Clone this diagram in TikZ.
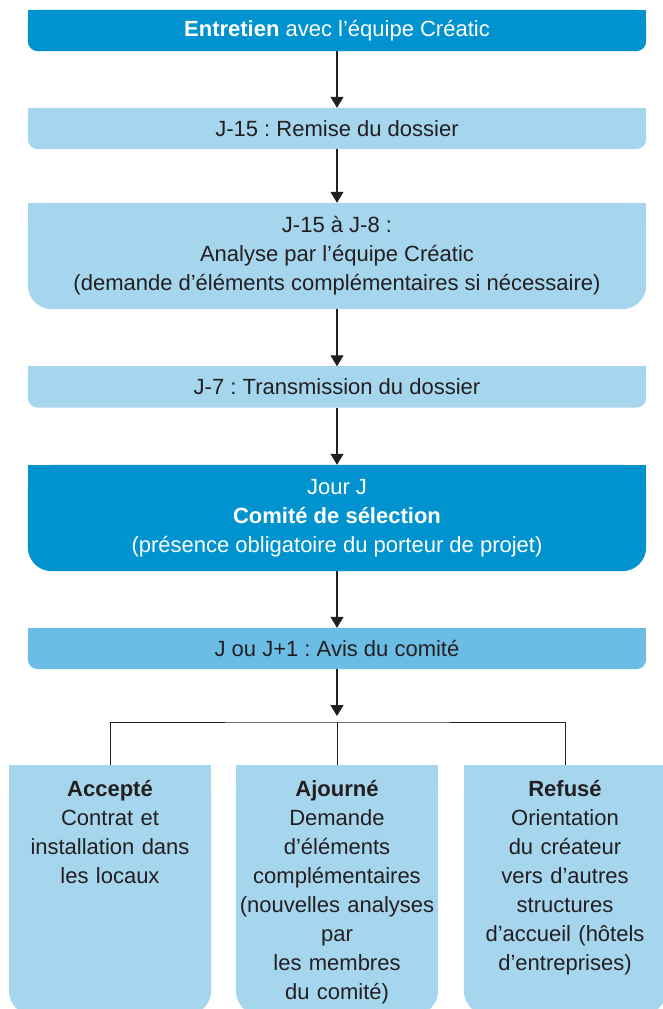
\documentclass[tikz,border=0pt]{standalone}
\usepackage{fontspec}
\setmainfont{Liberation Sans}
\frenchspacing
\usetikzlibrary{arrows.meta,backgrounds}
\definecolor{fonce}{HTML}{0093D0}
\definecolor{clair}{HTML}{A6D5EE}
\definecolor{moyen}{HTML}{6CBDE5}
\definecolor{encre}{HTML}{231F20}

\begin{document}
\begin{tikzpicture}[x=1pt,y=1pt,>={Triangle[width=13pt,length=11pt]},
	etape/.style={minimum width=618pt, inner sep=0pt, align=center, text=encre,
		font=\fontsize{22}{29}\selectfont},
	feuille/.style={anchor=north, minimum width=202pt, text width=216pt, inner xsep=-7pt,
		inner ysep=0pt, align=center, text height=31pt, text depth=219pt, text=encre,
		font=\fontsize{22}{29}\selectfont},
	fleche/.style={->, line width=1.3pt, encre},
	trait/.style={line width=1pt, encre}]
		\useasboundingbox (0,0) rectangle (662,-1009);
		% Etapes
		\node[etape, minimum height=41pt, text=white] (entr) at (337,-30.5) {\textbf{Entretien} avec l’équipe Créatic};
		\node[etape, minimum height=41pt] (remise) at (337,-128.5) {J-15 : Remise du dossier};
		\node[etape, minimum height=106pt] (analyse) at (337,-256) {J-15 à J-8 :\\ Analyse par l’équipe Créatic\\ (demande d’éléments complémentaires si nécessaire)};
		\node[etape, minimum height=41pt] (transm) at (337,-387) {J-7 : Transmission du dossier};
		\node[etape, minimum height=106pt, text=white] (comite) at (337,-518) {Jour J\\ \textbf{Comité de sélection}\\ (présence obligatoire du porteur de projet)};
		\node[etape, minimum height=41pt] (avis) at (337,-648.5) {J ou J+1 : Avis du comité};
		% Decisions
		\node[feuille] (acc) at (110,-765) {\textbf{Accepté}\\ Contrat et\\ installation dans\\ les locaux};
		\node[feuille] (ajo) at (337,-765) {\textbf{Ajourné}\\ Demande\\ d’éléments\\ complémentaires\\ (nouvelles analyses\\ par\\ les membres\\ du comité)};
		\node[feuille] (ref) at (565,-765) {\textbf{Refusé}\\ Orientation\\ du créateur\\ vers d’autres\\ structures\\ d’accueil (hôtels\\ d’entreprises)};
		% Fonds (coins bas arrondis)
		\begin{scope}[on background layer]
			\foreach \n/\c/\r in {entr/fonce/10, remise/clair/10, analyse/clair/24, transm/clair/10,
				comite/fonce/24, avis/moyen/10, acc/clair/25, ajo/clair/25, ref/clair/25}{
				\fill[\c, rounded corners=\r pt] (\n.north west) rectangle (\n.south east);
				\fill[\c] (\n.north west) rectangle ([yshift={2*\r pt}]\n.south east);
			}
		\end{scope}
		% Fleches
		\draw[fleche] (entr) -- (remise);
		\draw[fleche] (remise) -- (analyse);
		\draw[fleche] (analyse) -- (transm);
		\draw[fleche] (transm) -- (comite);
		\draw[fleche] (comite) -- (avis);
		\coordinate (pointe) at (337,-716);
		\coordinate (jonc) at (337,-722);
		\draw[fleche] (avis) -- (pointe);
		\draw[trait] (acc.north) |- (jonc) -| (ref.north);
		\draw[trait] (jonc) -- (ajo.north);
	\end{tikzpicture}
\end{document}
